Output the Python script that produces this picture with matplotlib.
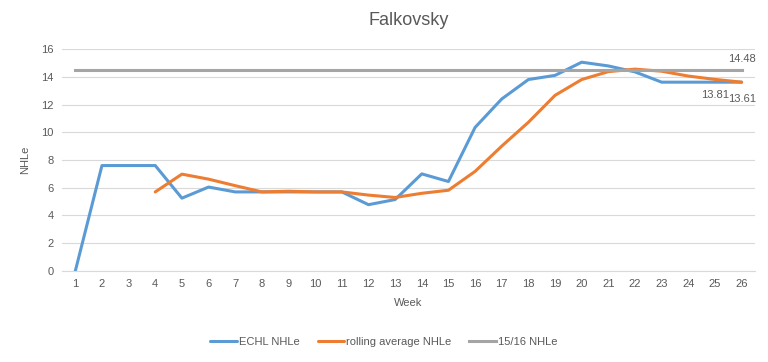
import numpy as np
import matplotlib
matplotlib.use("Agg")
import matplotlib.pyplot as plt

plt.rcParams['font.family'] = ['Liberation Sans', 'DejaVu Sans']

weeks = list(range(1, 27))
echl = [0, 7.6, 7.6, 7.6, 5.25, 6.05, 5.7, 5.7, 5.7, 5.7, 5.7, 4.78, 5.15,
        7.0, 6.45, 10.35, 12.4, 13.8, 14.1, 15.05, 14.78, 14.35, 13.61, 13.61,
        13.61, 13.61]
roll_weeks = list(range(4, 27))
rolling = [5.7, 6.98, 6.62, 6.15, 5.7, 5.75, 5.7, 5.7, 5.47, 5.3, 5.6, 5.82,
           7.18, 9.0, 10.72, 12.66, 13.8, 14.37, 14.55, 14.4, 14.05, 13.81, 13.61]
prev_season = 14.48

blue = "#5B9BD5"
orange = "#ED7D31"
gray = "#A5A5A5"
txt = "#595959"

fig = plt.figure(figsize=(7.68, 3.62), dpi=100)
ax = fig.add_axes([0.0807, 0.2514, 0.9023, 0.6132])

ax.plot(weeks, echl, color=blue, lw=2.2, label="ECHL NHLe", solid_capstyle="round")
ax.plot(roll_weeks, rolling, color=orange, lw=2.2, label="rolling average NHLe", solid_capstyle="round")
ax.plot(weeks, [prev_season] * len(weeks), color=gray, lw=2.2, label="15/16 NHLe")

ax.set_xlim(0.5, 26.5)
ax.set_ylim(0, 16)
ax.set_xticks(weeks)
ax.set_yticks(range(0, 17, 2))
ax.grid(axis="y", color="#D9D9D9", lw=0.8)
ax.set_axisbelow(True)
for s in ["top", "right", "left"]:
    ax.spines[s].set_visible(False)
ax.spines["bottom"].set_color("#D9D9D9")
ax.tick_params(axis="both", length=0, labelsize=8, colors=txt, pad=6)

ax.text(26, prev_season + 0.45, "14.48", fontsize=8, color=txt, ha="center", va="bottom")
ax.text(25, rolling[-2] - 0.75, "13.81", fontsize=8, color=txt, ha="center", va="top")
ax.text(26, rolling[-1] - 0.85, "13.61", fontsize=8, color=txt, ha="center", va="top")

ax.set_title("Falkovsky", fontsize=13, color=txt, pad=17)
ax.set_xlabel("Week", fontsize=8, color=txt, labelpad=6)
ax.set_ylabel("NHLe", fontsize=8, color=txt, labelpad=8)

fig.legend(loc="center", bbox_to_anchor=(0.5, 0.055), ncol=3, frameon=False,
           fontsize=8, labelcolor=txt, handlelength=2.4, columnspacing=1.6, handletextpad=0.2)

fig.savefig("out.png", dpi=100)
